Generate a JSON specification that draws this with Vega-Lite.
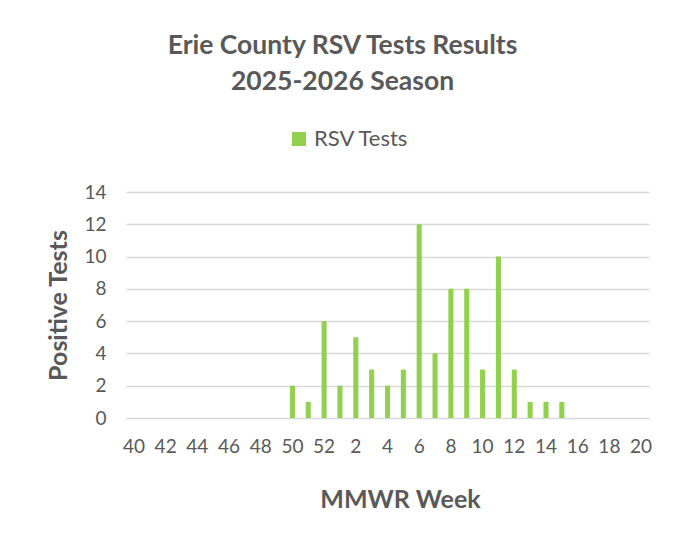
{
  "$schema": "https://vega.github.io/schema/vega-lite/v6.json",
  "autosize": {"type": "none"},
  "width": 523,
  "height": 226,
  "padding": {"left": 126, "top": 192, "right": 27, "bottom": 115},
  "background": "white",
  "title": {
    "text": ["Erie County RSV Tests Results", "2025-2026 Season"],
    "fontSize": 26.5,
    "fontWeight": "bold",
    "font": "Lato",
    "color": "#595959",
    "anchor": "middle",
    "dx": -45,
    "offset": 33,
    "lineHeight": 36
  },
  "data": {
    "values": [
      {"week": "50", "positive": 2},
      {"week": "51", "positive": 1},
      {"week": "52", "positive": 6},
      {"week": "1", "positive": 2},
      {"week": "2", "positive": 5},
      {"week": "3", "positive": 3},
      {"week": "4", "positive": 2},
      {"week": "5", "positive": 3},
      {"week": "6", "positive": 12},
      {"week": "7", "positive": 4},
      {"week": "8", "positive": 8},
      {"week": "9", "positive": 8},
      {"week": "10", "positive": 3},
      {"week": "11", "positive": 10},
      {"week": "12", "positive": 3},
      {"week": "13", "positive": 1},
      {"week": "14", "positive": 1},
      {"week": "15", "positive": 1}
    ]
  },
  "mark": {"type": "bar"},
  "encoding": {
    "x": {
      "field": "week",
      "type": "ordinal",
      "scale": {
        "domain": ["40","41","42","43","44","45","46","47","48","49","50","51","52","1","2","3","4","5","6","7","8","9","10","11","12","13","14","15","16","17","18","19","20"],
        "paddingInner": 0.68,
        "paddingOuter": 0.34
      },
      "axis": {
        "title": "MMWR Week",
        "values": ["40","42","44","46","48","50","52","2","4","6","8","10","12","14","16","18","20"],
        "labelAngle": 0,
        "labelFontSize": 19,
        "labelColor": "#595959",
        "labelFont": "Lato",
        "labelPadding": 19,
        "ticks": false,
        "domain": false,
        "titleFontSize": 25,
        "titleFont": "Lato",
        "titleFontWeight": "bold",
        "titleColor": "#595959",
        "titlePadding": 31,
        "titleX": 274
      }
    },
    "y": {
      "field": "positive",
      "type": "quantitative",
      "scale": {"domain": [0, 14]},
      "axis": {
        "title": "Positive Tests",
        "values": [0,2,4,6,8,10,12,14],
        "labelFontSize": 19,
        "labelColor": "#595959",
        "labelFont": "Lato",
        "labelPadding": 20,
        "ticks": false,
        "domain": false,
        "gridColor": "#D9D9D9",
        "gridWidth": 1.5,
        "titleFontSize": 25,
        "titleFont": "Lato",
        "titleFontWeight": "bold",
        "titleColor": "#595959",
        "titlePadding": 12
      }
    },
    "color": {
      "datum": "RSV Tests",
      "scale": {"range": ["#92D050"]},
      "legend": {
        "title": null,
        "orient": "none",
        "legendX": 162,
        "legendY": -64,
        "symbolType": "square",
        "symbolSize": 196,
        "symbolStrokeWidth": 0,
        "labelFontSize": 22,
        "labelFont": "Lato",
        "labelColor": "#595959"
      }
    }
  },
  "config": {
    "view": {"stroke": null}
  }
}
